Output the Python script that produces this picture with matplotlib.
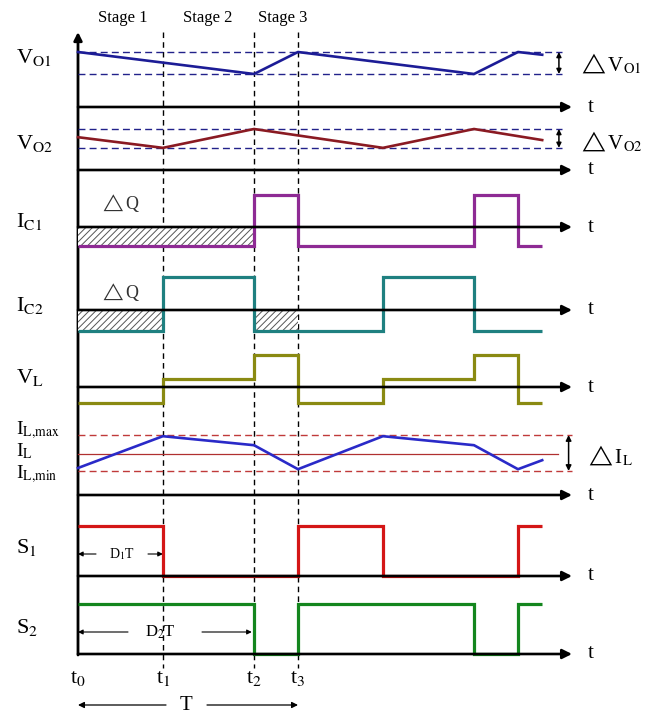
import matplotlib.pyplot as plt

plt.rcParams['font.family'] = ['Liberation Serif', 'DejaVu Serif']
plt.rcParams['mathtext.fontset'] = 'stix'
plt.rcParams['hatch.linewidth'] = 0.7
plt.rcParams['hatch.color'] = '#555555'

# switching instants, in units of the period T
T = 1.0
t1, t2, t3 = 0.386, 0.80, 1.0
t_end = 2.11
t_names = ['t$_0$', 't$_1$', 't$_2$', 't$_3$']
stage_names = ['Stage 1', 'Stage 2', 'Stage 3']

# output voltages (piecewise linear)
vo1_t = [0, t2, t3, t2 + T, t3 + T, t_end]
vo1_v = [1.0, 0.6, 1.0, 0.6, 1.0, 0.95]
vo1_band = [0.6, 1.0]

vo2_t = [0, t1, t2, t1 + T, t2 + T, t_end]
vo2_v = [0.80, 0.54, 1.0, 0.54, 1.0, 0.73]
vo2_band = [0.54, 1.0]

# capacitor currents, inductor voltage, switch states (step signals)
ic1_edges = [0, t2, t3, t2 + T, t3 + T, t_end]
ic1_levels = [-0.6, 1.0, -0.6, 1.0, -0.6]

ic2_edges = [0, t1, t2, t1 + T, t2 + T, t_end]
ic2_levels = [-0.64, 1.0, -0.64, 1.0, -0.64]

vl_edges = [0, t1, t2, t3, t1 + T, t2 + T, t3 + T, t_end]
vl_levels = [-0.5, 0.25, 1.0, -0.5, 0.25, 1.0, -0.5]

# inductor current
il_t = [0, t1, t2, t3, t1 + T, t2 + T, t3 + T, t_end]
il_v = [0.45, 0.98, 0.83, 0.43, 0.98, 0.83, 0.43, 0.58]
il_band = [0.40, 0.68, 1.0]  # min, average, max

s1_edges = [0, t1, t3, t1 + T, t3 + T, t_end]
s1_levels = [1, 0, 1, 0, 1]
s2_edges = [0, t2, t3, t2 + T, t3 + T, t_end]
s2_levels = [1, 0, 1, 0, 1]

# ---- layout (pixels) ----
W, H = 659, 715
X0, PXT = 78, 220          # pixel of t0, pixels per T
x_lo, x_hi = -X0 / PXT, (W - X0) / PXT
t_arrow = (572 - X0) / PXT


def tx(px):
    return (px - X0) / PXT


fig = plt.figure(figsize=(W / 100, H / 100), dpi=100)
fig.patch.set_facecolor('white')

# background axes: x in T units, y in pixels from top
bg = fig.add_axes([0, 0, 1, 1], facecolor='none')
bg.set_xlim(x_lo, x_hi)
bg.set_ylim(H, 0)
bg.axis('off')


def row(base, scale, label, label_y, size=16):
    ax = fig.add_axes([0, 0, 1, 1], facecolor='none')
    ax.set_xlim(x_lo, x_hi)
    ax.set_ylim((base - H) / scale, base / scale)
    ax.axis('off')
    # time axis with arrow
    ax.annotate('', xy=(t_arrow, 0), xytext=(0, 0),
                arrowprops=dict(arrowstyle='-|>', lw=1.9, color='black',
                                mutation_scale=14, shrinkA=0, shrinkB=0))
    bg.text(tx(588), base, 't', fontsize=15, va='center', ha='left')
    bg.text(tx(16), label_y, label, fontsize=size, va='center', ha='left')
    return ax


def harrow(x_from, x_to, y, lw=0.8, ms=7):
    bg.annotate('', xy=(x_to, y), xytext=(x_from, y),
                arrowprops=dict(arrowstyle='-|>', lw=lw, color='black',
                                mutation_scale=ms, shrinkA=0, shrinkB=0))


def varrow(ax, x, lo, hi, ms=7):
    ax.annotate('', xy=(x, lo), xytext=(x, hi),
                arrowprops=dict(arrowstyle='<|-|>', lw=1.1, color='black',
                                mutation_scale=ms, shrinkA=0, shrinkB=0))


# vertical axis
bg.annotate('', xy=(0, 32), xytext=(0, 655),
            arrowprops=dict(arrowstyle='-|>', lw=2.0, color='black',
                            mutation_scale=12, shrinkA=0, shrinkB=0))

# dashed time markers
for tt in [t1, t2, t3]:
    bg.plot([tt, tt], [32, 668], color='black', lw=1.0, ls=(0, (4, 3)))

# stage labels
for name, xp in zip(stage_names, [123, 208, 283]):
    bg.text(tx(xp), 18, name, fontsize=12, ha='center', va='center')

# V_O1
ax = row(107, 55, r'V$_{\rm O1}$', 58)
for b in vo1_band:
    ax.plot([0, 2.2], [b, b], color='#22228a', lw=1.0, ls=(0, (5, 3)))
ax.plot(vo1_t, vo1_v, color='#1c1c96', lw=1.9)
varrow(ax, 2.186, *vo1_band)
bg.text(tx(578), 64, r'$\triangle$V$_{\rm O1}$', fontsize=15, va='center')

# V_O2
ax = row(170, 41, r'V$_{\rm O2}$', 143)
for b in vo2_band:
    ax.plot([0, 2.2], [b, b], color='#22228a', lw=1.0, ls=(0, (5, 3)))
ax.plot(vo2_t, vo2_v, color='#8a1a22', lw=1.9)
varrow(ax, 2.186, *vo2_band)
bg.text(tx(578), 142, r'$\triangle$V$_{\rm O2}$', fontsize=15, va='center')

# I_C1
ax = row(227, 32, r'I$_{\rm C1}$', 222)
ax.fill_between([0, t2], ic1_levels[0], 0, facecolor='white',
                edgecolor='#555555', hatch='/////', lw=0)
ax.stairs(ic1_levels, ic1_edges, baseline=None, color='#8e2a94', lw=2.3)
bg.text(tx(100), 203, r'$\triangle$Q', fontsize=13, va='center', color='#333333')

# I_C2
ax = row(310, 33, r'I$_{\rm C2}$', 305)
ax.fill_between([0, t1], ic2_levels[0], 0, facecolor='white',
                edgecolor='#555555', hatch='/////', lw=0)
ax.fill_between([t2, t3], ic2_levels[0], 0, facecolor='white',
                edgecolor='#555555', hatch='/////', lw=0)
ax.stairs(ic2_levels, ic2_edges, baseline=None, color='#1f8080', lw=2.3)
bg.text(tx(100), 292, r'$\triangle$Q', fontsize=13, va='center', color='#333333')

# V_L
ax = row(387, 32, r'V$_{\rm L}$', 378)
ax.stairs(vl_levels, vl_edges, baseline=None, color='#8a8a12', lw=2.3)

# I_L
ax = row(495, 60, r'I$_{\rm L{,}max}$', 430, size=14)
bg.text(tx(16), 451, r'I$_{\rm L}$', fontsize=14, va='center', ha='left')
bg.text(tx(16), 474, r'I$_{\rm L{,}min}$', fontsize=14, va='center', ha='left')
ax.plot([0, t_arrow], [il_band[0]] * 2, color='#c03a3a', lw=1.0, ls=(0, (5, 3)))
ax.plot([0, t_arrow], [il_band[2]] * 2, color='#c03a3a', lw=1.0, ls=(0, (5, 3)))
ax.plot([0, 2.18], [il_band[1]] * 2, color='#b03030', lw=0.9)
ax.plot(il_t, il_v, color='#2a2ac8', lw=1.9)
varrow(ax, 2.23, il_band[0], il_band[2], ms=8)
bg.text(tx(585), 456, r'$\triangle$I$_{\rm L}$', fontsize=15, va='center')

# S1
ax = row(576, 50, r'S$_1$', 547)
ax.stairs(s1_levels, s1_edges, baseline=None, color='#d41616', lw=2.3)
harrow(tx(96), 0, 554)
harrow(tx(148), t1, 554)
bg.text(tx(122), 554, r'D$_1$T', fontsize=10, ha='center', va='center')

# S2
ax = row(654, 50, r'S$_2$', 628)
ax.stairs(s2_levels, s2_edges, baseline=None, color='#14861e', lw=2.3)
harrow(tx(128), 0, 632)
harrow(tx(202), t2 - 0.01, 632)
bg.text(tx(160), 632, r'D$_2$T', fontsize=12, ha='center', va='center')

# instants below
for name, tt in zip(t_names, [0, t1, t2, t3]):
    bg.text(tt, 678, name, fontsize=16, ha='center', va='center')

# period arrow
harrow(tx(166), 0, 705, lw=0.9, ms=9)
harrow(tx(207), T, 705, lw=0.9, ms=9)
bg.text(tx(186), 706, 'T', fontsize=15, ha='center', va='center')

fig.savefig('out.png', dpi=100, facecolor='white')
